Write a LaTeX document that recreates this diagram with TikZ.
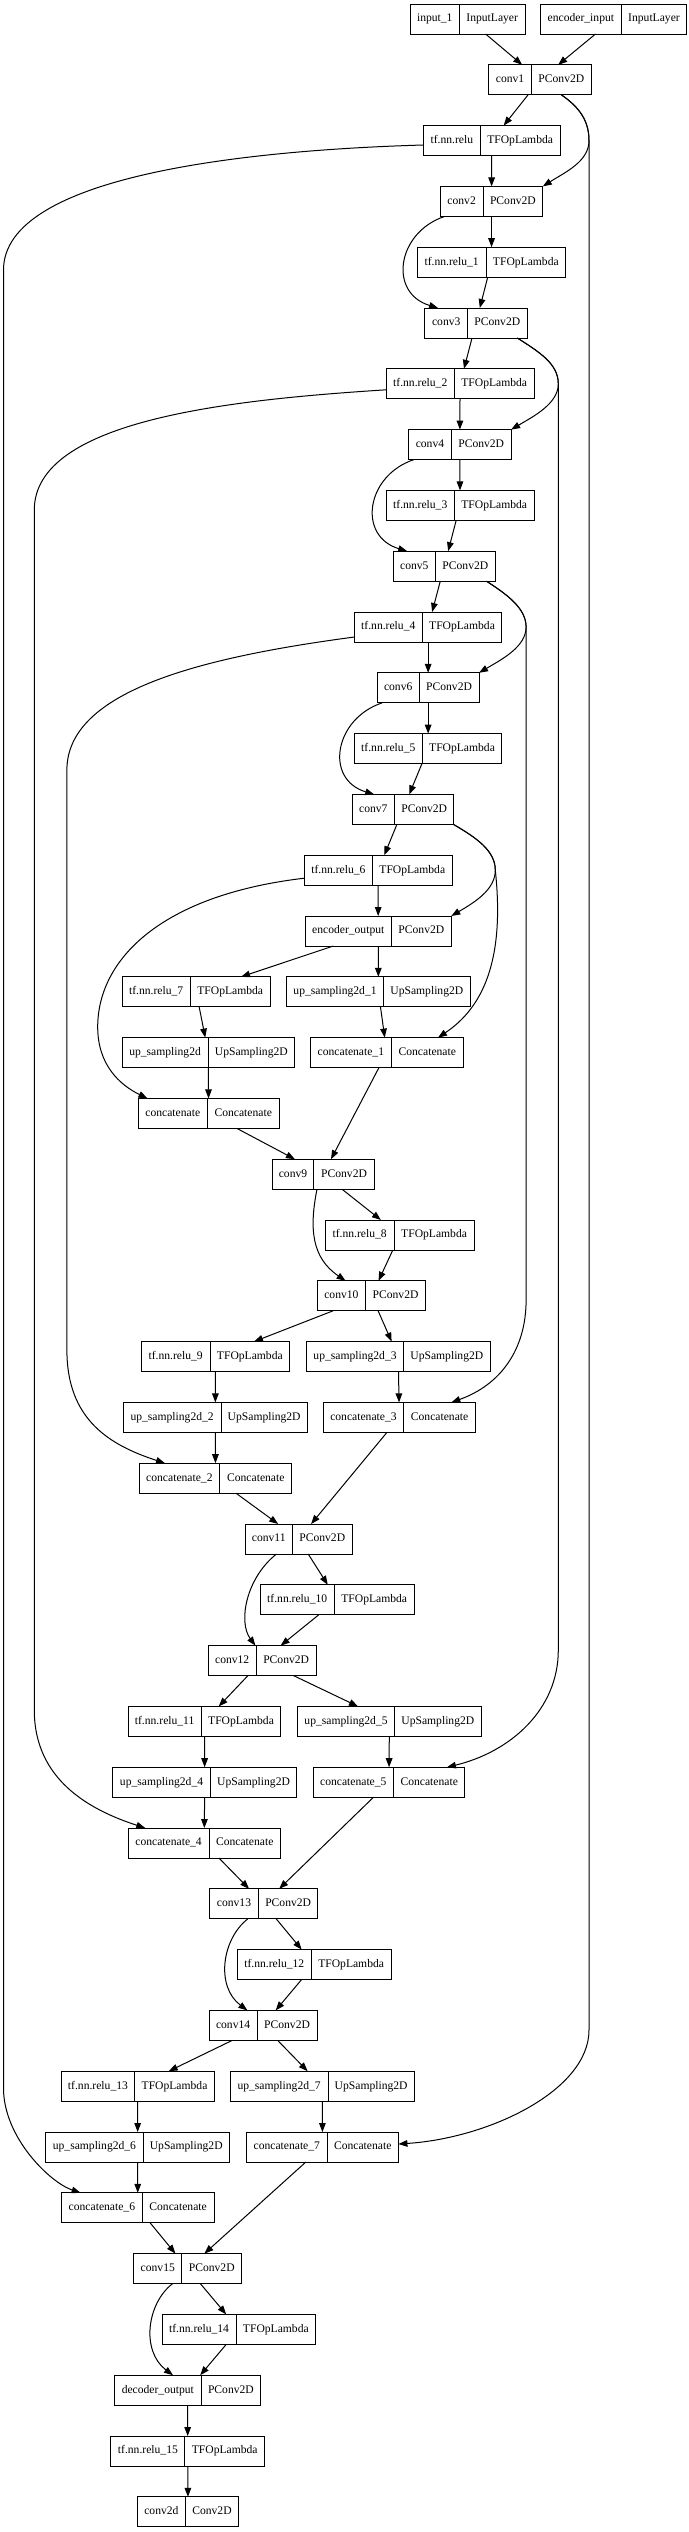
\documentclass[tikz,border=0pt]{standalone}
\usepackage{fontspec}
\setmainfont{Liberation Serif}
\usetikzlibrary{arrows.meta,calc}

\tikzset{
  caja/.style={draw, line width=0.5pt, minimum height=15pt, inner sep=0pt, outer sep=0pt},
  texto/.style={font=\fontsize{5.8}{7}\selectfont, inner sep=0pt, text height=4pt, text depth=1.2pt},
  flecha/.style={line width=0.5pt, -{Triangle[length=4.5pt,width=3.3pt]}},
}

% capa: nombre, izq, division, der, fila, texto, tipo
\newcommand{\capa}[7]{%
  \node[caja, minimum width={(#4-#2)*0.5pt}] (#1) at ({(#2+#4)/2},{19+60.8*#5}) {};
  \draw[line width=0.5pt] (#3,{4+60.8*#5}) -- (#3,{34+60.8*#5});
  \node[texto] (#1-n) at ({(#2+#3)/2},{19+60.8*#5}) {#6};
  \node[texto] (#1-t) at ({(#3+#4)/2},{19+60.8*#5}) {#7};
}

\begin{document}
\begin{tikzpicture}[x=0.5pt, y=-0.5pt]
  \useasboundingbox (0,0) rectangle (689,2532);

  % Codificador
  \capa{inp}{410.3}{459.2}{525.2}{0}{input\_1}{InputLayer}
  \capa{encin}{540.6}{621.2}{686.8}{0}{encoder\_input}{InputLayer}
  \capa{conv1}{488.7}{531.4}{591.3}{1}{conv1}{PConv2D}
  \capa{relu}{423.5}{480.3}{560.0}{2}{tf.nn.relu}{TFOpLambda}
  \capa{conv2}{440.3}{483.0}{542.8}{3}{conv2}{PConv2D}
  \capa{relu1}{417.4}{486.0}{565.7}{4}{tf.nn.relu\_1}{TFOpLambda}
  \capa{conv3}{424.9}{467.6}{527.0}{5}{conv3}{PConv2D}
  \capa{relu2}{386.1}{454.4}{534.0}{6}{tf.nn.relu\_2}{TFOpLambda}
  \capa{conv4}{408.6}{451.3}{511.1}{7}{conv4}{PConv2D}
  \capa{relu3}{386.1}{454.4}{534.0}{8}{tf.nn.relu\_3}{TFOpLambda}
  \capa{conv5}{393.2}{435.4}{495.3}{9}{conv5}{PConv2D}
  \capa{relu4}{354.4}{422.2}{501.9}{10}{tf.nn.relu\_4}{TFOpLambda}
  \capa{conv6}{377.3}{419.1}{479.0}{11}{conv6}{PConv2D}
  \capa{relu5}{354.4}{422.2}{501.9}{12}{tf.nn.relu\_5}{TFOpLambda}
  \capa{conv7}{352.2}{394.5}{453.9}{13}{conv7}{PConv2D}
  \capa{relu6}{304.2}{372.5}{452.1}{14}{tf.nn.relu\_6}{TFOpLambda}
  \capa{encout}{305.1}{391.4}{451.3}{15}{encoder\_output}{PConv2D}

  % Decodificador
  \capa{relu7}{122.0}{190.2}{270.3}{16}{tf.nn.relu\_7}{TFOpLambda}
  \capa{up1}{286.6}{383.5}{470.2}{16}{up\_sampling2d\_1}{UpSampling2D}
  \capa{up0}{122.0}{208.2}{294.5}{17}{up\_sampling2d}{UpSampling2D}
  \capa{cat1}{310.4}{391.4}{463.2}{17}{concatenate\_1}{Concatenate}
  \capa{cat0}{138.2}{207.4}{279.1}{18}{concatenate}{Concatenate}
  \capa{conv9}{272.1}{313.9}{374.2}{19}{conv9}{PConv2D}
  \capa{relu8}{325.4}{394.0}{474.2}{20}{tf.nn.relu\_8}{TFOpLambda}
  \capa{conv10}{317.4}{365.4}{425.7}{21}{conv10}{PConv2D}
  \capa{relu9}{141.3}{210.0}{289.7}{22}{tf.nn.relu\_9}{TFOpLambda}
  \capa{up3}{306.4}{403.7}{490.0}{22}{up\_sampling2d\_3}{UpSampling2D}
  \capa{up2}{123.3}{221.0}{307.3}{23}{up\_sampling2d\_2}{UpSampling2D}
  \capa{cat3}{323.2}{403.7}{475.5}{23}{concatenate\_3}{Concatenate}
  \capa{cat2}{139.1}{219.7}{291.9}{24}{concatenate\_2}{Concatenate}
  \capa{conv11}{245.2}{292.3}{352.2}{25}{conv11}{PConv2D}
  \capa{relu10}{260.2}{334.2}{414.3}{26}{tf.nn.relu\_10}{TFOpLambda}
  \capa{conv12}{208.2}{256.2}{316.1}{27}{conv12}{PConv2D}
  \capa{relu11}{128.1}{201.2}{280.9}{28}{tf.nn.relu\_11}{TFOpLambda}
  \capa{up5}{297.6}{394.5}{481.2}{28}{up\_sampling2d\_5}{UpSampling2D}
  \capa{up4}{112.7}{210.4}{296.7}{29}{up\_sampling2d\_4}{UpSampling2D}
  \capa{cat5}{313.0}{393.6}{464.9}{29}{concatenate\_5}{Concatenate}
  \capa{cat4}{128.1}{209.1}{280.4}{30}{concatenate\_4}{Concatenate}
  \capa{conv13}{209.6}{258.4}{317.9}{31}{conv13}{PConv2D}
  \capa{relu12}{237.3}{311.3}{391.0}{32}{tf.nn.relu\_12}{TFOpLambda}
  \capa{conv14}{209.1}{257.1}{317.0}{33}{conv14}{PConv2D}
  \capa{relu13}{61.2}{134.7}{214.4}{34}{tf.nn.relu\_13}{TFOpLambda}
  \capa{up7}{230.3}{328.0}{414.3}{34}{up\_sampling2d\_7}{UpSampling2D}
  \capa{up6}{45.8}{143.1}{229.4}{35}{up\_sampling2d\_6}{UpSampling2D}
  \capa{cat7}{246.5}{327.1}{398.4}{35}{concatenate\_7}{Concatenate}
  \capa{cat6}{61.6}{142.2}{214.0}{36}{concatenate\_6}{Concatenate}
  \capa{conv15}{133.8}{181.8}{241.7}{37}{conv15}{PConv2D}
  \capa{relu14}{162.0}{236.0}{315.7}{38}{tf.nn.relu\_14}{TFOpLambda}
  \capa{decout}{114.5}{201.2}{260.6}{39}{decoder\_output}{PConv2D}
  \capa{relu15}{110.9}{184.9}{264.6}{40}{tf.nn.relu\_15}{TFOpLambda}
  \capa{convout}{137.4}{185.4}{238.6}{41}{conv2d}{Conv2D}

  % Conexiones directas
  \foreach \a/\b in {inp/conv1, encin/conv1, conv1/relu, relu/conv2, conv2/relu1,
      relu1/conv3, conv3/relu2, relu2/conv4, conv4/relu3, relu3/conv5, conv5/relu4,
      relu4/conv6, conv6/relu5, relu5/conv7, conv7/relu6, relu6/encout, encout/relu7,
      encout/up1, relu7/up0, up0/cat0, up1/cat1, cat0/conv9, cat1/conv9, conv9/relu8,
      relu8/conv10, conv10/relu9, conv10/up3, relu9/up2, up3/cat3, up2/cat2,
      cat3/conv11, cat2/conv11, conv11/relu10, relu10/conv12, conv12/relu11,
      conv12/up5, relu11/up4, up5/cat5, up4/cat4, cat5/conv13, cat4/conv13,
      conv13/relu12, relu12/conv14, conv14/relu13, conv14/up7, relu13/up6, up7/cat7,
      up6/cat6, cat7/conv15, cat6/conv15, conv15/relu14, relu14/decout,
      decout/relu15, relu15/convout}
    \draw[flecha] (\a) -- (\b);

  % Conexiones que saltan la activacion
  \draw[flecha] ($(conv2.south)+(-46.85,0)$) .. controls +(-48,16) and +(-50,-15) .. ($(conv3.north)+(-37.85,0)$);
  \draw[flecha] ($(conv4.south)+(-45.95,0)$) .. controls +(-48,16) and +(-50,-15) .. ($(conv5.north)+(-37.05,0)$);
  \draw[flecha] ($(conv6.south)+(-45.95,0)$) .. controls +(-48,16) and +(-50,-15) .. ($(conv7.north)+(-28.85,0)$);
  \draw[flecha] ($(conv9.south)+(-6.15,0)$) .. controls +(-8,40) and +(-33.6,-22.8) .. ($(conv10.north)+(-25.95,0)$);
  \draw[flecha] ($(conv11.south)+(-22.2,0)$) .. controls +(-30.5,24) and +(-17.4,-23.6) .. ($(conv12.north)+(-6.75,0)$);
  \draw[flecha] ($(conv13.south)+(-15.85,0)$) .. controls +(-26,20) and +(-32,-24) .. ($(conv14.north)+(-15.65,0)$);
  \draw[flecha] ($(conv15.south)+(-15.15,0)$) .. controls +(-26,20) and +(-32,-24) .. ($(decout.north)+(-14.55,0)$);

  % Puntos de paso de los saltos largos
  \coordinate (b1) at (589,140.6);   \coordinate (b1d) at (589,2030);
  \coordinate (b3) at (558.3,383.8); \coordinate (b3d) at (558.3,1650);
  \coordinate (b5) at (526.1,627);   \coordinate (b5d) at (526.1,1300);
  \coordinate (b7) at (495.3,870.2);
  \coordinate (a1) at (3.5,270);     \coordinate (a1d) at (3.5,2088);
  \coordinate (a2) at (34.3,510);    \coordinate (a2d) at (34.3,1710);
  \coordinate (a4) at (66.9,770);    \coordinate (a4d) at (66.9,1350);
  \coordinate (a6) at (97.7,1027);

  % Saltos por la derecha
  \draw[flecha] ($(conv1.south)+(21.3,0)$) .. controls +(19,13) and +(0,-19) .. (b1) .. controls +(0,21) and +(22,-14) .. (conv2.north east);
  \draw[flecha] ($(conv1.south)+(21.3,0)$) .. controls +(19,13) and +(0,-19) .. (b1) -- (b1d) .. controls +(0,60) and +(91.6,-6) .. ($(cat7.east)+(0,-3)$);
  \draw[flecha] ($(conv3.south)+(41.35,0)$) .. controls +(22,14) and +(0,-20) .. (b3) .. controls +(0,20) and +(22,-13) .. (conv4.north east);
  \draw[flecha] ($(conv3.south)+(41.35,0)$) .. controls +(22,14) and +(0,-20) .. (b3) -- (b3d) .. controls +(0,60) and +(63.1,-15.2) .. ($(cat5.north)+(58,0)$);
  \draw[flecha] ($(conv5.south)+(42.25,0)$) .. controls +(20,13) and +(0,-19) .. (b5) .. controls +(0,20) and +(22,-13) .. (conv6.north east);
  \draw[flecha] ($(conv5.south)+(42.25,0)$) .. controls +(20,13) and +(0,-19) .. (b5) -- (b5d) .. controls +(0,50) and +(48.7,-17.4) .. ($(cat3.north)+(52,0)$);
  \draw[flecha] ($(conv7.south)+(50.45,0)$) .. controls +(22,13) and +(0,-20) .. (b7) .. controls +(0,20) and +(22,-13) .. (encout.north east);
  \draw[flecha] ($(conv7.south)+(50.45,0)$) .. controls +(22,13) and +(0,-20) .. (b7) .. controls +(9.7,89.8) and +(45,-30) .. ($(cat1.north)+(51.2,0)$);

  % Saltos por la izquierda
  \draw[flecha] ($(relu.west)+(0,4.4)$) .. controls +(-173.5,5) and +(0,-95) .. (a1) -- (a1d) .. controls +(0,50) and +(-30,-10) .. ($(cat6.north)+(-57.2,0)$);
  \draw[flecha] ($(relu2.west)+(0,6)$) .. controls +(-156,10) and +(0,-90) .. (a2) -- (a2d) .. controls +(0,70) and +(-55.3,-18) .. ($(cat4.north)+(-59,0)$);
  \draw[flecha] ($(relu4.west)+(0,10)$) .. controls +(-150,20) and +(0,-80) .. (a4) -- (a4d) .. controls +(0,70) and +(-55,-18) .. ($(cat2.north)+(-50.5,0)$);
  \draw[flecha] ($(relu6.west)+(0,8)$) .. controls +(-144,17) and +(0,-67) .. (a6) .. controls +(0,38) and +(-27.5,-13.4) .. ($(cat0.north)+(-61.2,0)$);
\end{tikzpicture}
\end{document}
